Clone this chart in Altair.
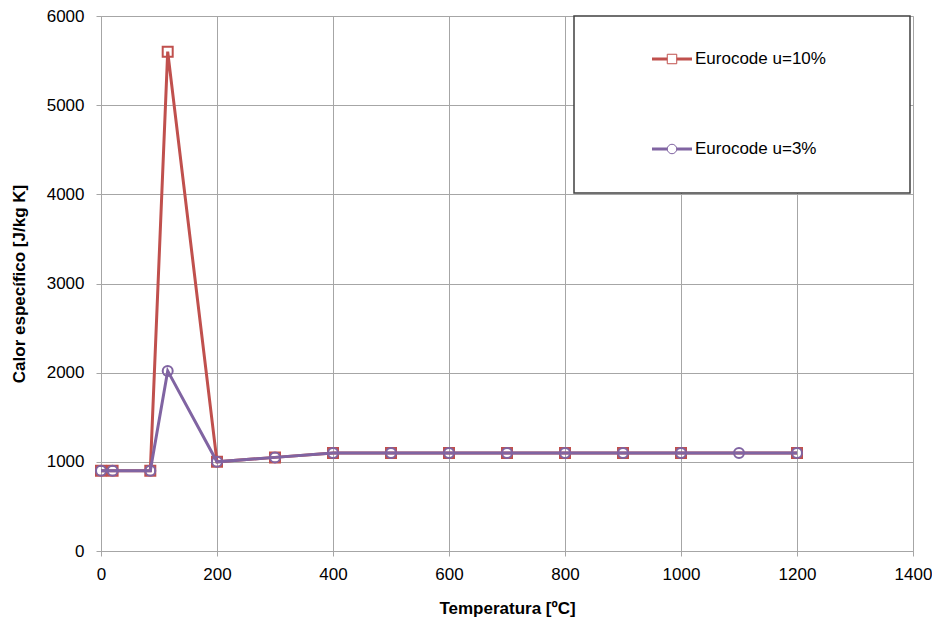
import altair as alt
import pandas as pd

# Data
temp_u10 = [0, 20, 85, 115, 200, 300, 400, 500, 600, 700, 800, 900, 1000, 1200]
cp_u10 = [900, 900, 900, 5600, 1000, 1050, 1100, 1100, 1100, 1100, 1100, 1100, 1100, 1100]
temp_u3 = [0, 20, 85, 115, 200, 300, 400, 500, 600, 700, 800, 900, 1000, 1100, 1200]
cp_u3 = [900, 900, 900, 2020, 1000, 1050, 1100, 1100, 1100, 1100, 1100, 1100, 1100, 1100, 1100]
series_names = ["Eurocode u=10%", "Eurocode u=3%"]
series_colors = ["#c0504d", "#8064a2"]
x_ticks = [0, 200, 400, 600, 800, 1000, 1200, 1400]
y_ticks = [0, 1000, 2000, 3000, 4000, 5000, 6000]

df10 = pd.DataFrame({"T": temp_u10, "cp": cp_u10})
df3 = pd.DataFrame({"T": temp_u3, "cp": cp_u3})

FONT = "Liberation Sans"
W, H = 812, 535

xs = alt.Scale(domain=[0, 1400], nice=False)
ys = alt.Scale(domain=[0, 6000], nice=False)

xenc = alt.X("T:Q", scale=xs, title="Temperatura [ºC]",
             axis=alt.Axis(values=x_ticks, format="d", labelFontSize=17, titleFontSize=17,
                           labelFont=FONT, titleFont=FONT, titleFontWeight="bold",
                           labelColor="#000", titleColor="#000", grid=True, gridColor="#a6a6a6",
                           domainColor="#a6a6a6", tickColor="#a6a6a6", tickSize=5,
                           labelPadding=10, titlePadding=18, labelFlush=False))
yenc = alt.Y("cp:Q", scale=ys, title="Calor específico [J/kg K]",
             axis=alt.Axis(values=y_ticks, format="d", labelFontSize=17, titleFontSize=17,
                           labelFont=FONT, titleFont=FONT, titleFontWeight="bold",
                           labelColor="#000", titleColor="#000", grid=True, gridColor="#a6a6a6",
                           domainColor="#a6a6a6", tickColor="#a6a6a6", tickSize=5,
                           labelPadding=12, titlePadding=18, labelFlush=False))

line10 = alt.Chart(df10).mark_line(color=series_colors[0], strokeWidth=3).encode(x=xenc, y=yenc)
pts10 = alt.Chart(df10).mark_point(shape="square", size=100, filled=False, color=series_colors[0],
                                   strokeWidth=2, opacity=1).encode(x="T:Q", y="cp:Q")
line3 = alt.Chart(df3).mark_line(color=series_colors[1], strokeWidth=3).encode(x="T:Q", y="cp:Q")
pts3 = alt.Chart(df3).mark_point(shape="circle", size=100, filled=False, color=series_colors[1],
                                 strokeWidth=2, opacity=1).encode(x="T:Q", y="cp:Q")

# Manual legend box
legbox = alt.Chart(pd.DataFrame({"a": [0]})).mark_rect(
    fill="white", stroke="#404040", strokeWidth=1.5).encode(
    x=alt.value(473), x2=alt.value(809), y=alt.value(0), y2=alt.value(177))

leg_rows = []
for i, (n, c) in enumerate(zip(series_names, series_colors)):
    leg_rows.append({"name": n, "color": c, "shape": ["square", "circle"][i]})

leg_layers = []
for i, row in enumerate(leg_rows):
    yy = 43 + 90 * i
    d = pd.DataFrame([row])
    leg_layers.append(alt.Chart(d).mark_rule(color=row["color"], strokeWidth=3).encode(
        x=alt.value(551), x2=alt.value(591), y=alt.value(yy)))
    leg_layers.append(alt.Chart(d).mark_point(shape=row["shape"], size=90, filled=False, fill="white",
                                              color=row["color"], strokeWidth=1, opacity=1).encode(
        x=alt.value(571), y=alt.value(yy)))
    leg_layers.append(alt.Chart(d).mark_text(align="left", baseline="middle", font=FONT, fontSize=17,
                                             color="#000").encode(
        x=alt.value(594), y=alt.value(yy), text="name:N"))

chart = alt.layer(line10, pts10, line3, pts3, legbox, *leg_layers).properties(
    width=W, height=H, autosize=alt.AutoSizeParams(type="none"),
    padding={"left": 93, "top": 8, "right": 19, "bottom": 68}
).configure_view(stroke=None).configure(background="white")

chart.save("out.html", embed_options={"renderer": "svg", "actions": False})
